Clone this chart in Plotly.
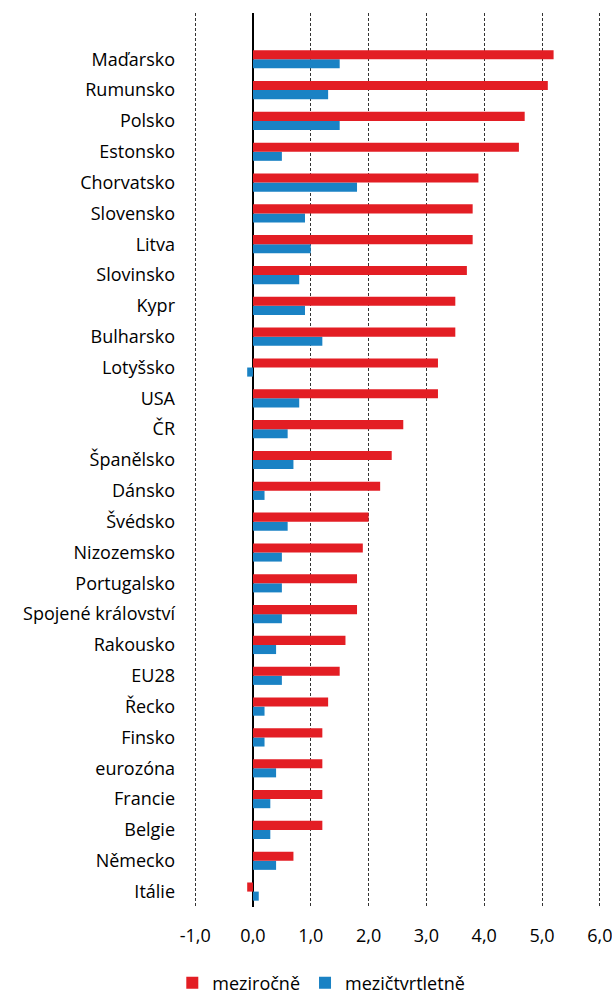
import plotly.graph_objects as go

countries = ["Maďarsko", "Rumunsko", "Polsko", "Estonsko", "Chorvatsko", "Slovensko",
             "Litva", "Slovinsko", "Kypr", "Bulharsko", "Lotyšsko", "USA", "ČR",
             "Španělsko", "Dánsko", "Švédsko", "Nizozemsko", "Portugalsko",
             "Spojené království", "Rakousko", "EU28", "Řecko", "Finsko", "eurozóna",
             "Francie", "Belgie", "Německo", "Itálie"]
mezirocne = [5.2, 5.1, 4.7, 4.6, 3.9, 3.8, 3.8, 3.7, 3.5, 3.5, 3.2, 3.2, 2.6,
             2.4, 2.2, 2.0, 1.9, 1.8, 1.8, 1.6, 1.5, 1.3, 1.2, 1.2, 1.2, 1.2, 0.7, -0.1]
mezictvrtletne = [1.5, 1.3, 1.5, 0.5, 1.8, 0.9, 1.0, 0.8, 0.9, 1.2, -0.1, 0.8, 0.6,
                  0.7, 0.2, 0.6, 0.5, 0.5, 0.5, 0.4, 0.5, 0.2, 0.2, 0.4, 0.3, 0.3, 0.4, 0.1]
x_ticks = [-1, 0, 1, 2, 3, 4, 5, 6]
x_ticktext = [f"{v:.1f}".replace(".", ",") for v in x_ticks]

RED = "#E31E24"
BLUE = "#1A82C4"

fig = go.Figure()
fig.add_trace(go.Bar(y=countries, x=mezictvrtletne, orientation="h", name="mezičtvrtletně",
                     marker=dict(color=BLUE, line=dict(width=0)), legendrank=2))
fig.add_trace(go.Bar(y=countries, x=mezirocne, orientation="h", name="meziročně",
                     marker=dict(color=RED, line=dict(width=0)), legendrank=1))

fig.update_layout(
    width=612, height=994,
    barmode="group", bargap=0.41, bargroupgap=0,
    plot_bgcolor="white", paper_bgcolor="white",
    margin=dict(l=194, r=11, t=13, b=87, autoexpand=False),
    font=dict(family="Open Sans", size=18, color="#000000"),
    showlegend=True,
    legend=dict(orientation="h", xref="container", yref="container",
                x=0.525, xanchor="center", y=0.011, yanchor="middle",
                font=dict(size=18), itemwidth=30, traceorder="normal"),
    xaxis=dict(range=[-1.02, 6.02], tickvals=x_ticks, ticktext=x_ticktext,
               showgrid=True, gridcolor="#333333", griddash="3px,2px", gridwidth=1,
               zeroline=True, zerolinecolor="#000000", zerolinewidth=2,
               showline=False, ticks="", ticklabelstandoff=16,
               ticklabeloverflow="allow", automargin=False),
    yaxis=dict(categoryorder="array", categoryarray=countries[::-1],
               range=[-0.5, 28.5], showgrid=False, zeroline=False, showline=False,
               ticks="", ticklabelstandoff=18, automargin=False),
)

fig.write_html("out.html")
